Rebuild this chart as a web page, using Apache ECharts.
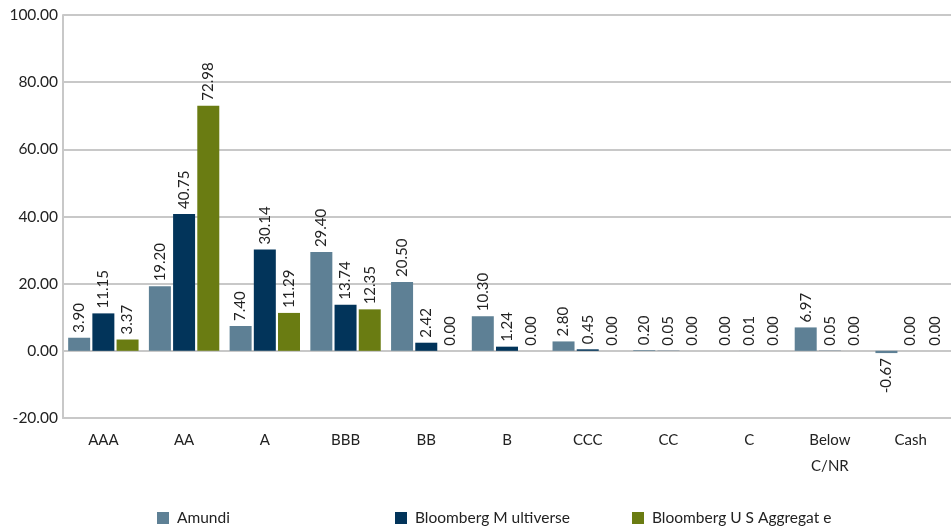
<!DOCTYPE html>
<html>
<head>
<meta charset="utf-8">
<script src="https://cdn.jsdelivr.net/npm/echarts@6/dist/echarts.min.js"></script>
<style>
  html, body { margin: 0; padding: 0; background: #fff; }
  #main { width: 951px; height: 528px; }
</style>
</head>
<body>
<div id="main"></div>
<script>
// rating buckets and allocation (%) per portfolio
var categories = ["AAA", "AA", "A", "BBB", "BB", "B", "CCC", "CC", "C", "Below\nC/NR", "Cash"];
var amundi = [3.90, 19.20, 7.40, 29.40, 20.50, 10.30, 2.80, 0.20, 0.00, 6.97, -0.67];
var multiverse = [11.15, 40.75, 30.14, 13.74, 2.42, 1.24, 0.45, 0.05, 0.01, 0.05, 0.00];
var usAggregate = [3.37, 72.98, 11.29, 12.35, 0.00, 0.00, 0.00, 0.00, 0.00, 0.00, 0.00];
var seriesNames = ["Amundi", "Bloomberg M ultiverse", "Bloomberg U S Aggregat e"];
var colors = ["#5E8095", "#02345A", "#6A7C12"];

var font = "Lato, 'DejaVu Sans', sans-serif";

var labelUp = {
  show: true,
  position: "top",
  rotate: 90,
  align: "left",
  verticalAlign: "middle",
  distance: 5,
  fontSize: 15,
  fontFamily: font,
  color: "#222",
  formatter: function (p) { return p.value.toFixed(2); }
};

function toData(arr) {
  return arr.map(function (v) {
    if (v < 0) {
      return { value: v, label: { position: "bottom", align: "right" } };
    }
    return v;
  });
}

function makeSeries(name, arr, color) {
  return {
    name: name,
    type: "bar",
    barWidth: 22,
    barGap: "10%",
    itemStyle: { color: color },
    label: labelUp,
    data: toData(arr)
  };
}

function makeLegend(name, left) {
  return {
    data: [name],
    left: left,
    top: 505,
    icon: "rect",
    itemWidth: 12,
    itemHeight: 12,
    itemGap: 10,
    textStyle: { fontSize: 15.5, fontFamily: font, color: "#222", padding: [0, 0, 0, 3] }
  };
}

var chart = echarts.init(document.getElementById("main"));
chart.setOption({
  animation: false,
  legend: [
    makeLegend(seriesNames[0], 152),
    makeLegend(seriesNames[1], 390),
    makeLegend(seriesNames[2], 627)
  ],
  grid: { left: 63, right: 0, top: 15, bottom: 110, containLabel: false },
  xAxis: {
    type: "category",
    data: categories,
    axisLine: { onZero: false, lineStyle: { color: "#C8C8C8", width: 2 } },
    axisTick: { show: false },
    axisLabel: { fontSize: 15, fontFamily: font, color: "#222", margin: 9, lineHeight: 26 }
  },
  yAxis: {
    type: "value",
    min: -20,
    max: 100,
    interval: 20,
    axisLine: { show: true, lineStyle: { color: "#C8C8C8", width: 2 } },
    axisTick: { show: false },
    splitLine: { lineStyle: { color: "#C8C8C8", width: 2 } },
    axisLabel: {
      fontSize: 15.5,
      fontFamily: font,
      color: "#222",
      margin: 5,
      formatter: function (v) { return v.toFixed(2); }
    }
  },
  series: [
    makeSeries(seriesNames[0], amundi, colors[0]),
    makeSeries(seriesNames[1], multiverse, colors[1]),
    makeSeries(seriesNames[2], usAggregate, colors[2])
  ]
});
</script>
</body>
</html>
